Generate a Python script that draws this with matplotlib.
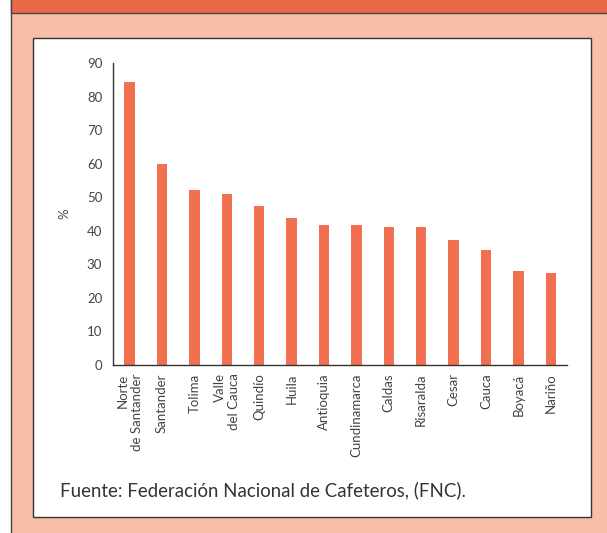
import matplotlib.pyplot as plt
from matplotlib.patches import Rectangle

departamentos = ['Norte\nde Santander', 'Santander', 'Tolima', 'Valle\ndel Cauca',
                 'Quindío', 'Huila', 'Antioquia', 'Cundinamarca', 'Caldas',
                 'Risaralda', 'Cesar', 'Cauca', 'Boyacá', 'Nariño']
porcentaje = [84.4, 60.0, 52.2, 51.0, 47.5, 43.7, 41.8, 41.8, 41.0, 41.0,
              37.4, 34.4, 28.0, 27.4]
yticks = [0, 10, 20, 30, 40, 50, 60, 70, 80, 90]

bar_color = '#F07050'
band_color = '#E9694A'
peach = '#F8BEA7'
text_color = '#444444'

plt.rcParams['font.family'] = ['Lato', 'DejaVu Sans']

W, H = 607, 533
fig = plt.figure(figsize=(W / 100, H / 100), dpi=100)
fig.patch.set_facecolor('white')

# background frame, drawn in pixel coords (y down)
bg = fig.add_axes([0, 0, 1, 1], zorder=-10)
bg.set_xlim(0, W)
bg.set_ylim(H, 0)
bg.axis('off')
bg.add_patch(Rectangle((11, 0), W, H + 2, facecolor=peach, edgecolor='#444444', linewidth=1.0))
bg.add_patch(Rectangle((11, -2), W, 15, facecolor=band_color, edgecolor='#444444', linewidth=1.0))
bg.add_patch(Rectangle((33, 38), 558, 479, facecolor='white', edgecolor='#333333', linewidth=1.0))
bg.text(60, 490, 'Fuente: Federación Nacional de Cafeteros, (FNC).',
        fontsize=13.4, color='#333333', ha='left', va='center')

ax = fig.add_axes([113.3 / W, 1 - 365 / H, (567 - 113.3) / W, (365 - 63) / H])
ax.set_facecolor('none')
x = list(range(len(departamentos)))
ax.bar(x, porcentaje, width=0.32, color=bar_color, zorder=2)
ax.set_xlim(-0.5, len(departamentos) - 0.5)
ax.set_ylim(0, 90)
ax.set_yticks(yticks)
ax.set_yticklabels([str(v) for v in yticks], fontsize=9.5, color=text_color)
ax.set_xticks(x)
ax.set_xticklabels(departamentos, rotation=90, fontsize=9.5, color=text_color,
                   ha='center', va='top', multialignment='right')
ax.tick_params(axis='both', length=0)
ax.tick_params(axis='y', pad=8)
ax.tick_params(axis='x', pad=6)
for s in ['top', 'right']:
  ax.spines[s].set_visible(False)
for s in ['left', 'bottom']:
  ax.spines[s].set_color('#333333')
  ax.spines[s].set_linewidth(1.0)
ax.set_ylabel('%', fontsize=9.5, color=text_color, labelpad=12)

fig.savefig('out.png', dpi=100, facecolor=fig.get_facecolor())
